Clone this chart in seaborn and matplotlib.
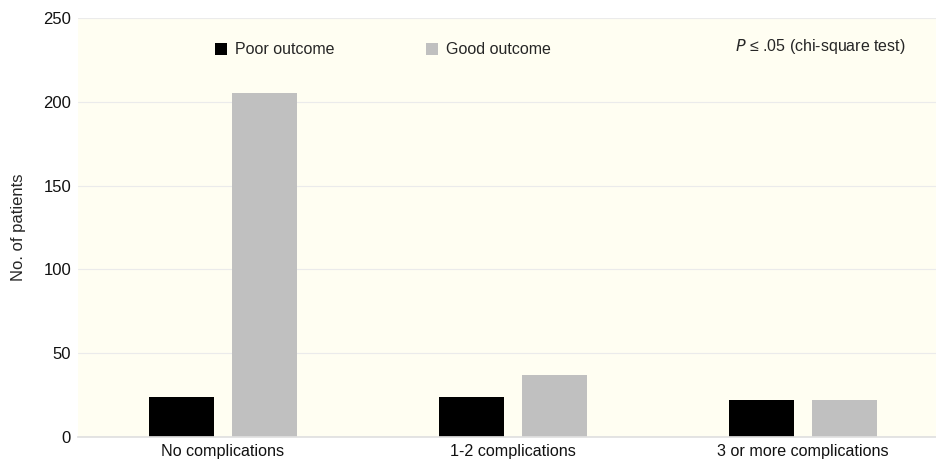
import pandas as pd
import matplotlib as mpl
import matplotlib.pyplot as plt
import seaborn as sns

# Data
categories = ['No complications', '1-2 complications', '3 or more complications']
poor_outcome = [24, 24, 22]
good_outcome = [205, 37, 22]
outcome_labels = ['Poor outcome', 'Good outcome']
y_ticks = [0, 50, 100, 150, 200, 250]

df = pd.DataFrame({
    'category': categories * 2,
    'outcome': [outcome_labels[0]] * 3 + [outcome_labels[1]] * 3,
    'patients': poor_outcome + good_outcome,
})

sns.set_theme(style='white')
plt.rcParams['font.family'] = ['Liberation Sans', 'DejaVu Sans']

fig = plt.figure(figsize=(9.36, 4.61), dpi=100)
ax = fig.add_axes([0.0833, 0.052, 0.9167, 0.909])
ax.set_facecolor('#fffef2')

sns.barplot(data=df, x='category', y='patients', hue='outcome',
            palette=['#000000', '#c0c0c0'], width=0.572, gap=0.217,
            linewidth=0, order=categories, hue_order=outcome_labels, ax=ax)

ax.set_ylim(0, 250)
ax.set_xlim(-0.5, 2.46)
ax.set_yticks(y_ticks)
ax.yaxis.grid(True, color='#ebebeb', linewidth=0.8)
ax.set_axisbelow(True)
for side in ['top', 'right', 'left']:
    ax.spines[side].set_visible(False)
ax.spines['bottom'].set_color('#e0e0e0')
ax.tick_params(axis='both', length=0, labelsize=12, colors='#111111')
ax.tick_params(axis='x', labelsize=11.6, pad=5)
ax.tick_params(axis='y', pad=5)
ax.set_xlabel('')
ax.set_ylabel('No. of patients', fontsize=12, labelpad=12)

ax.legend(loc='center left', bbox_to_anchor=(0.1435, 0.924), ncol=2,
          frameon=False, fontsize=11.5, handlelength=0.75, handleheight=0.75,
          handletextpad=0.5, columnspacing=5.7)

ax.text(0.965, 0.932, r'$P$' + ' ≤ .05 (chi-square test)', transform=ax.transAxes,
        ha='right', va='center', fontsize=11.5)

plt.savefig('out.png', dpi=100)
